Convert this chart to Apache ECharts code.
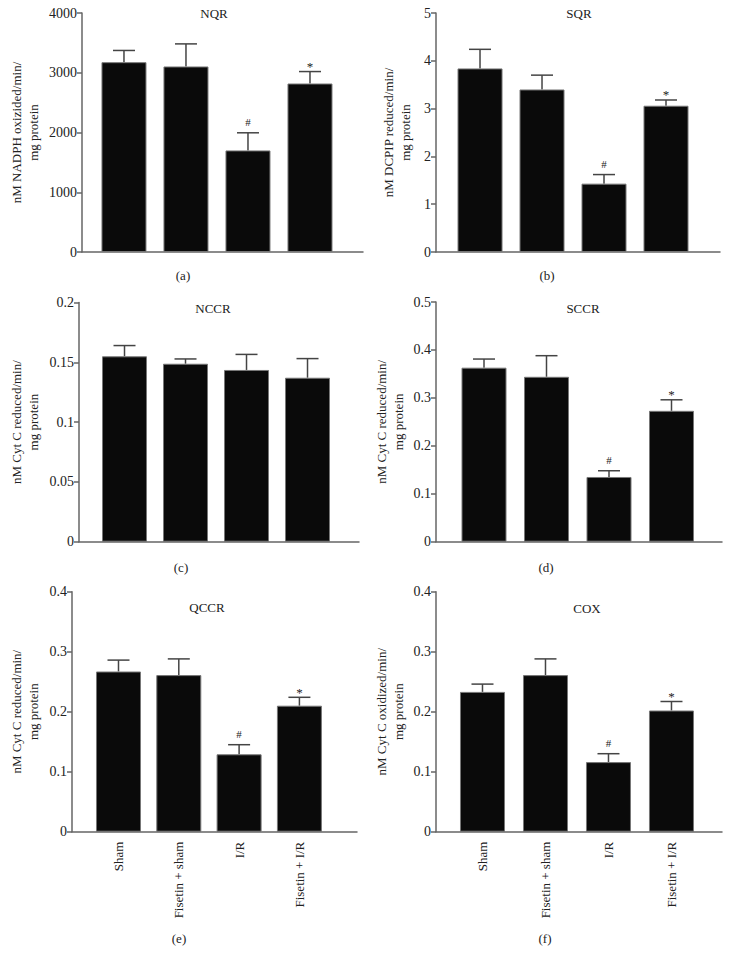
<!DOCTYPE html>
<html><head><meta charset="utf-8">
<script src="https://cdn.jsdelivr.net/npm/echarts@6/dist/echarts.min.js"></script>
<style>html,body{margin:0;padding:0;background:#fff}#c{width:730px;height:964px}</style>
</head><body><div id="c"></div>
<script>
const categories = ['Sham', 'Fisetin + sham', 'I/R', 'Fisetin + I/R'];

const nqrMean = [3177, 3105, 1700, 2820];
const nqrErr = [196, 378, 295, 200];
const nqrMarks = ['', '', '#', '*'];

const sqrMean = [3.84, 3.40, 1.43, 3.06];
const sqrErr = [0.40, 0.30, 0.19, 0.12];
const sqrMarks = ['', '', '#', '*'];

const nccrMean = [0.155, 0.1488, 0.1436, 0.1371];
const nccrErr = [0.009, 0.004, 0.013, 0.016];
const nccrMarks = ['', '', '', ''];

const sccrMean = [0.363, 0.344, 0.135, 0.273];
const sccrErr = [0.018, 0.044, 0.013, 0.023];
const sccrMarks = ['', '', '#', '*'];

const qccrMean = [0.267, 0.261, 0.129, 0.210];
const qccrErr = [0.019, 0.027, 0.016, 0.014];
const qccrMarks = ['', '', '#', '*'];

const coxMean = [0.233, 0.261, 0.116, 0.202];
const coxErr = [0.013, 0.027, 0.014, 0.015];
const coxMarks = ['', '', '#', '*'];

const FONT = '"Liberation Serif", "DejaVu Serif", serif';
const TXT = '#222';
const AX = '#666';

const panels = [
  {title:'NQR', cap:'(a)', ylab:'nM NADPH oxizided/min/\nmg protein', mean:nqrMean, err:nqrErr, marks:nqrMarks,
   ymax:4000, yint:1000, grid:{left:82, top:13, width:281, height:239}, xmin:0.323, xmax:4.855,
   tXY:[214,13], cXY:[183,275], gap:40, showCat:false},
  {title:'SQR', cap:'(b)', ylab:'nM DCPIP reduced/min/\nmg protein', mean:sqrMean, err:sqrErr, marks:sqrMarks,
   ymax:5, yint:1, grid:{left:436, top:13, width:284, height:239}, xmin:0.290, xmax:4.871,
   tXY:[579,13], cXY:[547,275], gap:22, showCat:false},
  {title:'NCCR', cap:'(c)', ylab:'nM Cyt C reduced/min/\nmg protein', mean:nccrMean, err:nccrErr, marks:nccrMarks,
   ymax:0.2, yint:0.05, grid:{left:79, top:302.5, width:280, height:239.2}, xmin:0.254, xmax:4.844,
   tXY:[213,308], cXY:[181,567], gap:37, showCat:false},
  {title:'SCCR', cap:'(d)', ylab:'nM Cyt C reduced/min/\nmg protein', mean:sccrMean, err:sccrErr, marks:sccrMarks,
   ymax:0.5, yint:0.1, grid:{left:436, top:302, width:286, height:239.7}, xmin:0.232, xmax:4.808,
   tXY:[583,308], cXY:[546,567], gap:29, showCat:false},
  {title:'QCCR', cap:'(e)', ylab:'nM Cyt C reduced/min/\nmg protein', mean:qccrMean, err:qccrErr, marks:qccrMarks,
   ymax:0.4, yint:0.1, grid:{left:72, top:591.7, width:285, height:240}, xmin:0.229, xmax:4.955,
   tXY:[207,607], cXY:[179,938], gap:30, showCat:true},
  {title:'COX', cap:'(f)', ylab:'nM Cyt C oxidized/min/\nmg protein', mean:coxMean, err:coxErr, marks:coxMarks,
   ymax:0.4, yint:0.1, grid:{left:436, top:591.7, width:286, height:240}, xmin:0.262, xmax:4.802,
   tXY:[587,608], cXY:[545,938], gap:29, showCat:true}
];

const grid = [], xAxis = [], yAxis = [], series = [], graphic = [];
panels.forEach((p, i) => {
  grid.push(Object.assign({containLabel:false}, p.grid));
  xAxis.push({
    type:'value', gridIndex:i, min:p.xmin, max:p.xmax,
    splitLine:{show:false},
    axisLine:{show:true, lineStyle:{color:AX, width:1.5}},
    axisTick:{show:false},
    axisLabel:{show:p.showCat, customValues:[1,2,3,4], rotate:90, margin:10,
      formatter:(v)=>categories[Math.round(v)-1] || '', color:TXT, fontFamily:FONT, fontSize:13}
  });
  yAxis.push({
    type:'value', gridIndex:i, min:0, max:p.ymax, interval:p.yint,
    name:p.ylab, nameLocation:'middle', nameRotate:90, nameGap:p.gap,
    nameTextStyle:{color:TXT, fontFamily:FONT, fontSize:13, lineHeight:17, align:'center'},
    splitLine:{show:false},
    axisLine:{show:true, lineStyle:{color:AX, width:1.5}},
    axisTick:{show:true, length:5, lineStyle:{color:AX, width:1.5}},
    axisLabel:{margin:5, color:TXT, fontFamily:FONT, fontSize:14, formatter:(v)=>String(v)}
  });
  series.push({
    type:'bar', xAxisIndex:i, yAxisIndex:i, barWidth:45,
    data:p.mean.map((v, k)=>[k+1, v]),
    itemStyle:{color:'#0a0a0a', borderColor:'#777', borderWidth:1},
    silent:true, animation:false
  });
  const marks = p.marks;
  series.push({
    type:'custom', xAxisIndex:i, yAxisIndex:i, animation:false, silent:true,
    data:p.mean.map((v, k)=>[k+1, v, p.err[k]]),
    renderItem:(params, api)=>{
      const x = api.value(0), m = api.value(1), e = api.value(2);
      const p0 = api.coord([x, m]), p1 = api.coord([x, m+e]);
      const st = {stroke:'#444', lineWidth:1.5};
      const ch = [
        {type:'line', shape:{x1:p0[0], y1:p0[1], x2:p1[0], y2:p1[1]}, style:st},
        {type:'line', shape:{x1:p1[0]-11, y1:p1[1], x2:p1[0]+11, y2:p1[1]}, style:st}
      ];
      const mk = marks[params.dataIndex];
      if (mk) {
        ch.push({type:'text', x:p1[0], y:p1[1] - (mk === '#' ? 11 : 5),
          style:{text:mk, fill:'#222', font:(mk === '#' ? '11px ' : '13px ') + FONT, align:'center', verticalAlign:'middle'}});
      }
      return {type:'group', children:ch};
    }
  });
  graphic.push({type:'text', x:p.tXY[0], y:p.tXY[1],
    style:{text:p.title, fill:TXT, font:'13px ' + FONT, align:'center', verticalAlign:'middle'}});
  graphic.push({type:'text', x:p.cXY[0], y:p.cXY[1],
    style:{text:p.cap, fill:TXT, font:'13px ' + FONT, align:'center', verticalAlign:'middle'}});
});

const chart = echarts.init(document.getElementById('c'), null, {renderer:'svg'});
chart.setOption({backgroundColor:'#fff', animation:false, grid, xAxis, yAxis, series, graphic});
</script>
</body></html>
